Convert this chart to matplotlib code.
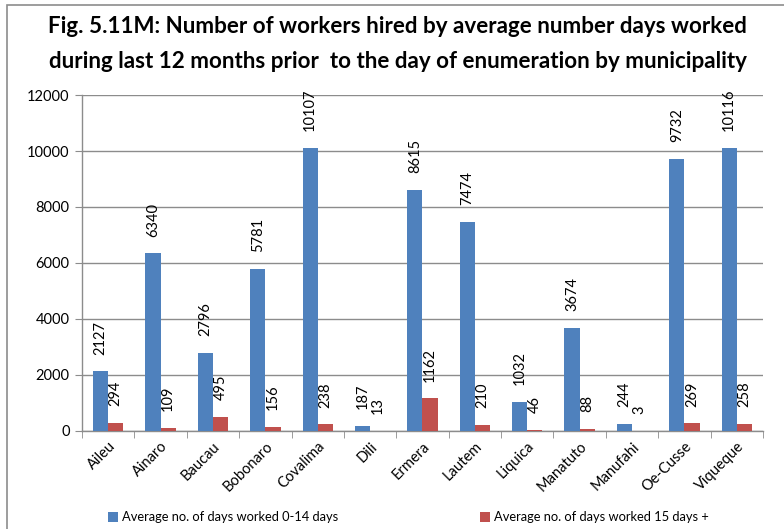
import numpy as np
import matplotlib
matplotlib.use("Agg")
import matplotlib.pyplot as plt
from matplotlib.patches import Rectangle

plt.rcParams['font.family'] = ['Lato', 'DejaVu Sans']

municipalities = ['Aileu', 'Ainaro', 'Baucau', 'Bobonaro', 'Covalima', 'Dili', 'Ermera',
                  'Lautem', 'Liquica', 'Manatuto', 'Manufahi', 'Oe-Cusse', 'Viqueque']
days_0_14 = [2127, 6340, 2796, 5781, 10107, 187, 8615, 7474, 1032, 3674, 244, 9732, 10116]
days_15_plus = [294, 109, 495, 156, 238, 13, 1162, 210, 46, 88, 3, 269, 258]
series_names = ['Average no. of days worked 0-14 days', 'Average no. of days worked 15 days +']

blue = '#4F81BD'
red = '#C0504D'
grid_col = '#8c8c8c'

fig = plt.figure(figsize=(7.84, 5.29), dpi=100)
ax = fig.add_axes([0.1046, 0.1853, 0.8686, 0.6351])

x = np.arange(len(municipalities))
w = 0.29
b1 = ax.bar(x - w / 2, days_0_14, w, color=blue, label=series_names[0], zorder=3)
b2 = ax.bar(x + w / 2, days_15_plus, w, color=red, label=series_names[1], zorder=3)

for bars, vals in ((b1, days_0_14), (b2, days_15_plus)):
    for rect, v in zip(bars, vals):
        ax.annotate(str(v), (rect.get_x() + rect.get_width() / 2, rect.get_height()),
                    xytext=(0, 12), textcoords='offset points', rotation=90,
                    ha='center', va='bottom', fontsize=10.5, color='black')

ax.set_xlim(-0.5, len(municipalities) - 0.5)
ax.set_ylim(0, 12000)
ax.set_yticks(np.arange(0, 12001, 2000))
ax.yaxis.grid(True, color=grid_col, linewidth=1, zorder=0)
ax.set_axisbelow(True)

ax.set_xticks(x)
ax.set_xticklabels(municipalities, rotation=45, ha='right', rotation_mode='anchor', fontsize=10.5)
ax.set_xticks(np.arange(-0.5, len(municipalities), 1), minor=True)
ax.tick_params(axis='x', which='major', length=0, pad=6)
ax.tick_params(axis='x', which='minor', length=5, color=grid_col, direction='out')
ax.tick_params(axis='y', length=5, color=grid_col, labelsize=10.5, pad=4)

for s in ('top', 'right'):
    ax.spines[s].set_visible(False)
for s in ('left', 'bottom'):
    ax.spines[s].set_color(grid_col)
    ax.spines[s].set_linewidth(1)

fig.text(0.507, 0.949, 'Fig. 5.11M: Number of workers hired by average number days worked',
         ha='center', va='center', fontsize=16.1, fontweight='bold')
fig.text(0.507, 0.884, 'during last 12 months prior  to the day of enumeration by municipality',
         ha='center', va='center', fontsize=16.1, fontweight='bold')

leg = fig.legend(loc='center', bbox_to_anchor=(0.521, 0.022), ncol=2, frameon=False,
                 fontsize=9.3, handlelength=0.75, handleheight=0.75, handletextpad=0.3,
                 columnspacing=11)

fig.patches.append(Rectangle((7 / 784, -0.05), 1.1, 1 - 5 / 529 + 0.05, transform=fig.transFigure,
                             fill=False, edgecolor='#8c8c8c', linewidth=1.2))

fig.savefig('out.png', dpi=100)
